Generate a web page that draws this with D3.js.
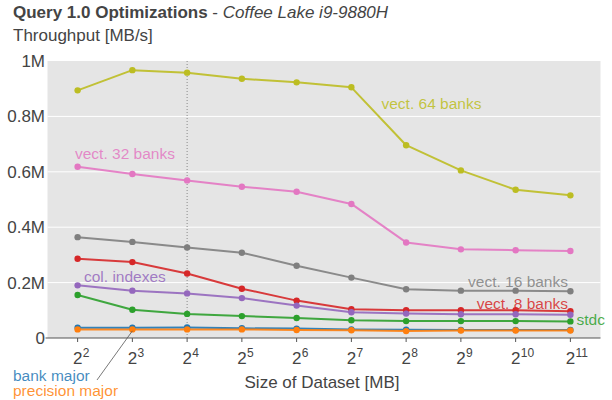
<!DOCTYPE html>
<html>
<head>
<meta charset="utf-8">
<script src="https://cdn.jsdelivr.net/npm/d3@7/dist/d3.min.js"></script>
<style>
  html, body { margin: 0; padding: 0; background: #fff; }
  svg { display: block; font-family: "Liberation Sans", Arial, sans-serif; }
</style>
</head>
<body>
<svg id="chart" width="612" height="400"></svg>
<script>
// Dataset sizes as powers of two (2^2 .. 2^11 MB)
const exponents = [2, 3, 4, 5, 6, 7, 8, 9, 10, 11];

// Throughput in MB/s for each implementation
const vect64 = [894000, 967000, 958000, 936000, 923000, 905000, 696000, 605000, 535000, 515000];
const vect32 = [618000, 592000, 569000, 546000, 528000, 484000, 345000, 320000, 317000, 314000];
const vect16 = [364000, 347000, 327000, 308000, 261000, 218000, 176000, 171000, 171000, 169000];
const vect8  = [286000, 274000, 233000, 178000, 135000, 104000, 100000, 100000, 100000, 97000];
const colIdx = [190000, 171000, 161000, 144000, 117000, 93000, 88000, 86000, 86000, 84000];
const stdc   = [155000, 102000, 87000, 79000, 72000, 64000, 61000, 61000, 61000, 60000];
const bankMajor = [37000, 37000, 38000, 35000, 34000, 31000, 30000, 29000, 29000, 29000];
const precMajor = [31000, 31000, 31000, 31000, 29000, 28000, 25000, 27000, 27000, 27000];

const yTicks = [0, 200000, 400000, 600000, 800000, 1000000];
const yTickLabels = ["0", "0.2M", "0.4M", "0.6M", "0.8M", "1M"];

const seriesNames = ["vect. 64 banks", "vect. 32 banks", "vect. 16 banks", "vect. 8 banks",
                     "col. indexes", "stdc", "bank major", "precision major"];
const seriesValues = [vect64, vect32, vect16, vect8, colIdx, stdc, bankMajor, precMajor];
const seriesColors = ["#bcbd22", "#e377c2", "#7f7f7f", "#d62728",
                      "#9467bd", "#2ca02c", "#1f77b4", "#ff7f0e"];

const svg = d3.select("#chart");
const plot = { left: 47.5, right: 600.5, top: 61, bottom: 338 };
const textColor = "#444";

const x = d3.scaleLinear().domain([1.45, 11.55]).range([plot.left, plot.right]);
const y = d3.scaleLinear().domain([0, 1000000]).range([plot.bottom, plot.top]);

// Plot background
svg.append("rect")
  .attr("x", plot.left).attr("y", plot.top)
  .attr("width", plot.right - plot.left).attr("height", plot.bottom - plot.top)
  .attr("fill", "#e5e5e5");

// Horizontal grid lines
svg.append("g").selectAll("line")
  .data(yTicks.filter(v => v > 0 && v < 1000000))
  .join("line")
  .attr("x1", plot.left).attr("x2", plot.right)
  .attr("y1", d => y(d)).attr("y2", d => y(d))
  .attr("stroke", "#fff").attr("stroke-width", 1);

// Marker line at 2^4
svg.append("line")
  .attr("x1", x(4)).attr("x2", x(4))
  .attr("y1", plot.top).attr("y2", plot.bottom)
  .attr("stroke", "#888").attr("stroke-width", 1)
  .attr("stroke-dasharray", "1,2");

// Y tick labels
svg.append("g").selectAll("text")
  .data(yTicks)
  .join("text")
  .attr("x", 45).attr("y", d => y(d))
  .attr("dy", "0.35em")
  .attr("text-anchor", "end")
  .attr("font-size", 17)
  .attr("fill", textColor)
  .text((d, i) => yTickLabels[i]);

// X axis line and ticks
svg.append("line")
  .attr("x1", plot.left - 2).attr("x2", plot.right)
  .attr("y1", plot.bottom).attr("y2", plot.bottom)
  .attr("stroke", "#555").attr("stroke-width", 1.2);

const xt = svg.append("g").selectAll("g")
  .data(exponents)
  .join("g")
  .attr("transform", d => `translate(${x(d)},0)`);
xt.append("line")
  .attr("y1", plot.bottom).attr("y2", plot.bottom + 4)
  .attr("stroke", "#555");
xt.append("text")
  .attr("y", 363.5)
  .attr("text-anchor", "middle")
  .attr("font-size", 17)
  .attr("fill", textColor)
  .text("2");
xt.append("text")
  .attr("x", 5.2).attr("y", 357)
  .attr("text-anchor", "start")
  .attr("font-size", 12)
  .attr("fill", textColor)
  .text(d => d);

// Axis title
svg.append("text")
  .attr("x", 322).attr("y", 388)
  .attr("text-anchor", "middle")
  .attr("font-size", 17)
  .attr("fill", textColor)
  .text("Size of Dataset [MB]");

// Chart title and y-axis unit
const title = svg.append("text")
  .attr("x", 13).attr("y", 17.5)
  .attr("font-size", 17)
  .attr("fill", textColor);
title.append("tspan").attr("font-weight", "bold").text("Query 1.0 Optimizations");
title.append("tspan").text(" - ");
title.append("tspan").attr("font-style", "italic").text("Coffee Lake i9-9880H");

svg.append("text")
  .attr("x", 13).attr("y", 40.5)
  .attr("font-size", 17)
  .attr("fill", textColor)
  .text("Throughput [MB/s]");

// Series lines and markers
const line = d3.line()
  .x((d, i) => x(exponents[i]))
  .y(d => y(d));

seriesValues.forEach((vals, s) => {
  const g = svg.append("g");
  g.append("path")
    .attr("d", line(vals))
    .attr("fill", "none")
    .attr("stroke", seriesColors[s])
    .attr("stroke-width", 2)
    .attr("stroke-opacity", 0.9)
    .attr("stroke-linejoin", "round");
  g.selectAll("circle")
    .data(vals)
    .join("circle")
    .attr("cx", (d, i) => x(exponents[i]))
    .attr("cy", d => y(d))
    .attr("r", 3.2)
    .attr("fill", seriesColors[s]);
});

// Direct series labels
const labels = [
  { s: 0, x: 381.5, y: 103.5, anchor: "start" },
  { s: 1, x: 75, y: 154, anchor: "start" },
  { s: 2, x: 568, y: 281.5, anchor: "end" },
  { s: 3, x: 568, y: 304, anchor: "end" },
  { s: 4, x: 84, y: 276.5, anchor: "start" },
  { s: 5, x: 576.5, y: 320, anchor: "start" },
  { s: 6, x: 13, y: 375.5, anchor: "start" },
  { s: 7, x: 13, y: 391, anchor: "start" }
];

// Leader line from the bottom two series to their labels
svg.append("line")
  .attr("x1", x(3)).attr("y1", y(precMajor[1]) + 1.5)
  .attr("x2", 97).attr("y2", 380)
  .attr("stroke", "#555").attr("stroke-width", 0.8);

svg.append("g").selectAll("text")
  .data(labels)
  .join("text")
  .attr("x", d => d.x).attr("y", d => d.y)
  .attr("dy", "0.35em")
  .attr("text-anchor", d => d.anchor)
  .attr("font-size", 15.5)
  .attr("fill", d => seriesColors[d.s])
  .attr("fill-opacity", 0.85)
  .text(d => seriesNames[d.s]);
</script>
</body>
</html>
